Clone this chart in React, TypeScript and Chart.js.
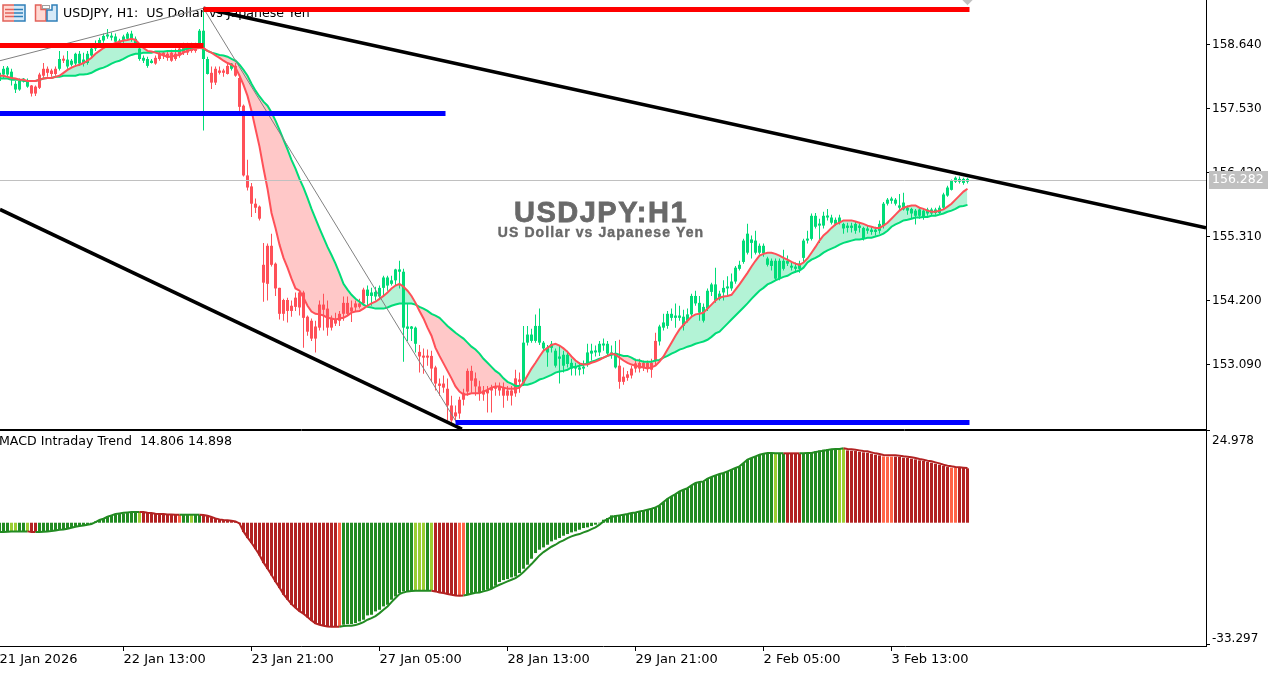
import React, { useEffect, useRef } from "react";
import { Chart, registerables } from "chart.js";

Chart.register(...registerables);

const timeTickIndexes = [0, 31, 63, 95, 127, 159, 191, 223];
const timeTickLabels = ["21 Jan 2026", "22 Jan 13:00", "23 Jan 21:00", "27 Jan 05:00", "28 Jan 13:00", "29 Jan 21:00", "2 Feb 05:00", "3 Feb 13:00"];
const priceTicks = [158.64, 157.53, 156.42, 155.31, 154.2, 153.09];
const macdTicks = [24.978, -33.297];
const lastPrice = 156.282;

const opens = [
158.01,158.12,158.12,158.05,157.86,157.86,158.01,157.91,157.93,157.91,
158.12,158.22,158.22,158.19,158.22,158.22,158.39,158.26,158.29,158.31,
158.31,158.31,158.32,158.45,158.57,158.65,158.71,158.78,158.76,158.69,
158.67,158.71,158.74,158.72,158.64,158.39,158.36,158.27,158.32,158.41,
158.48,158.50,158.48,158.50,158.48,158.57,158.62,158.58,158.62,158.62,
158.65,158.39,158.13,158.15,158.22,158.19,158.19,158.27,158.22,158.27,
158.06,157.58,156.37,156.18,155.88,155.83,154.82,155.15,155.15,154.84,
154.42,154.21,154.21,154.11,154.25,154.34,154.34,153.92,153.85,153.75,
154.13,154.13,154.06,153.89,153.87,153.97,154.16,154.16,154.08,154.15,
154.15,154.39,154.28,154.28,154.27,154.27,154.42,154.46,154.49,154.55,
154.70,153.73,153.71,153.71,153.45,153.31,153.24,153.24,153.24,153.04,
152.76,152.76,152.67,152.38,152.26,152.48,152.60,152.98,152.98,152.85,
152.71,152.64,152.65,152.69,152.71,152.72,152.69,152.64,152.64,152.85,
152.83,152.76,153.47,153.50,153.50,153.47,153.37,153.30,153.38,153.07,
153.19,153.07,153.10,153.02,153.02,153.00,153.02,153.10,153.28,153.30,
153.30,153.42,153.28,153.26,153.04,153.07,152.88,152.92,153.02,153.11,
153.12,153.12,153.12,153.12,153.50,153.49,153.73,153.76,153.90,153.90,
153.90,153.76,153.85,153.96,154.15,153.99,153.85,154.06,154.35,154.20,
154.23,154.34,154.41,154.41,154.53,154.75,154.87,155.03,155.20,155.03,
155.03,155.02,154.82,154.80,154.58,154.58,154.75,154.84,154.77,154.75,
154.75,154.94,155.24,155.27,155.48,155.50,155.50,155.64,155.55,155.53,
155.55,155.45,155.46,155.46,155.41,155.46,155.27,155.41,155.39,155.39,
155.41,155.50,155.88,155.93,155.88,155.81,155.78,155.76,155.71,155.67,
155.67,155.64,155.71,155.71,155.72,155.72,155.81,156.02,156.12,156.26,
156.26,156.24,156.26];

const closes = [
158.15,158.22,158.24,158.17,157.96,158.01,158.05,158.01,157.79,157.79,
157.89,158.10,158.15,158.13,158.13,158.39,158.36,158.38,158.36,158.48,
158.48,158.38,158.48,158.57,158.65,158.72,158.79,158.81,158.79,158.78,
158.71,158.78,158.83,158.83,158.74,158.57,158.41,158.39,158.36,158.31,
158.39,158.45,158.41,158.36,158.39,158.45,158.50,158.50,158.53,158.53,
158.88,158.88,158.39,157.98,157.98,158.15,158.15,158.13,158.31,158.10,
157.56,156.37,156.16,155.88,155.81,155.62,154.51,154.49,154.82,154.41,
153.97,153.97,154.02,154.02,154.09,154.08,153.90,153.66,153.54,153.54,
153.73,154.04,153.73,153.73,153.80,153.85,153.97,153.97,154.01,154.08,
154.09,154.15,154.39,154.34,154.35,154.42,154.60,154.60,154.55,154.74,
154.74,154.70,153.75,153.75,153.73,153.23,153.21,153.21,153.02,152.76,
152.72,152.69,152.38,152.12,152.19,152.24,152.48,152.62,152.81,152.71,
152.60,152.57,152.59,152.64,152.67,152.64,152.55,152.55,152.55,152.59,
152.79,153.47,153.61,153.61,153.76,153.76,153.47,153.38,153.45,153.33,
153.23,153.26,153.26,153.12,153.05,153.04,153.05,153.30,153.33,153.33,
153.45,153.45,153.45,153.30,153.28,152.79,152.79,152.86,152.90,153.02,
153.02,153.04,153.02,153.00,153.16,153.75,153.82,153.97,153.97,153.94,
153.94,153.92,153.96,154.28,154.28,154.16,154.09,154.37,154.48,154.48,
154.32,154.42,154.44,154.53,154.77,154.82,155.24,155.36,155.26,155.24,
155.15,155.15,154.93,154.89,154.89,154.89,154.89,154.89,154.79,154.79,
154.84,155.24,155.27,155.67,155.67,155.53,155.67,155.67,155.64,155.60,
155.64,155.53,155.50,155.50,155.53,155.50,155.46,155.45,155.43,155.43,
155.53,155.88,155.95,155.97,155.95,155.85,155.90,155.81,155.79,155.76,
155.78,155.76,155.78,155.78,155.78,155.81,156.04,156.16,156.28,156.33,
156.31,156.31,156.31];

const highs = [
158.19,158.27,158.27,158.22,158.01,158.05,158.06,158.05,157.94,157.93,
158.15,158.32,158.26,158.22,158.26,158.53,158.45,158.53,158.39,158.50,
158.53,158.50,158.53,158.62,158.71,158.76,158.83,158.91,158.85,158.83,
158.74,158.81,158.86,158.88,158.78,158.64,158.45,158.43,158.39,158.45,
158.53,158.53,158.53,158.55,158.57,158.62,158.67,158.67,158.67,158.67,
158.91,159.26,158.43,158.26,158.26,158.26,158.22,158.32,158.32,158.32,
158.12,157.60,156.64,156.24,155.97,155.85,155.20,155.19,155.36,154.86,
154.42,154.23,154.25,154.20,154.34,154.37,154.37,153.94,153.89,153.85,
154.20,154.32,154.20,153.94,153.99,154.02,154.27,154.27,154.20,154.20,
154.23,154.42,154.46,154.42,154.44,154.46,154.63,154.63,154.63,154.75,
154.89,154.75,154.15,153.76,153.75,153.43,153.37,153.35,153.33,153.07,
152.85,152.90,152.85,152.55,152.38,152.53,152.67,153.02,153.07,152.95,
152.81,152.72,152.72,152.74,152.78,152.78,152.78,152.72,152.72,153.00,
152.95,153.76,153.76,153.71,153.96,154.06,153.50,153.43,153.50,153.37,
153.42,153.33,153.33,153.19,153.12,153.12,153.16,153.45,153.45,153.42,
153.50,153.54,153.50,153.42,153.50,153.52,153.04,152.98,153.07,153.19,
153.19,153.16,153.16,153.19,153.64,153.78,153.97,154.02,154.06,154.15,
154.11,154.04,154.06,154.32,154.37,154.28,154.15,154.41,154.51,154.77,
154.37,154.55,154.62,154.67,154.80,154.89,155.27,155.53,155.33,155.41,
155.19,155.19,154.96,154.93,154.93,154.93,155.08,154.98,154.86,154.86,
154.89,155.27,155.41,155.71,155.72,155.62,155.74,155.79,155.69,155.64,
155.69,155.55,155.55,155.55,155.57,155.55,155.48,155.50,155.48,155.48,
155.59,155.91,155.98,156.00,155.98,156.05,156.07,155.85,155.81,155.79,
155.81,155.79,155.81,155.81,155.81,155.85,156.07,156.19,156.30,156.35,
156.35,156.33,156.33];

const lows = [
157.98,158.05,158.08,157.93,157.80,157.84,157.98,157.89,157.74,157.75,
157.87,158.05,158.08,158.08,158.10,158.19,158.32,158.22,158.26,158.26,
158.27,158.26,158.29,158.41,158.53,158.60,158.67,158.74,158.71,158.65,
158.64,158.67,158.71,158.69,158.60,158.36,158.32,158.24,158.31,158.29,
158.36,158.39,158.36,158.34,158.36,158.41,158.46,158.46,158.50,158.50,
158.62,157.15,158.12,157.87,157.94,158.12,158.08,158.12,158.19,158.08,
157.41,156.35,156.11,155.65,155.72,155.59,154.18,154.20,154.79,154.28,
153.87,153.85,153.82,153.92,154.02,153.94,153.38,153.59,153.50,153.30,
153.68,153.68,153.59,153.68,153.76,153.76,153.85,153.94,153.83,154.02,
154.06,154.11,154.11,154.11,154.20,154.23,154.28,154.37,154.46,154.46,
154.41,153.14,153.50,153.50,153.30,152.95,152.93,153.07,152.79,152.64,
152.55,152.60,152.12,152.08,152.12,152.15,152.38,152.55,152.60,152.55,
152.46,152.46,152.26,152.26,152.55,152.55,152.34,152.46,152.38,152.53,
152.60,152.72,153.42,153.47,153.47,153.43,153.33,153.05,153.30,153.04,
152.76,152.95,153.04,152.90,152.90,152.90,152.92,153.05,153.16,153.23,
153.24,153.33,153.24,153.19,153.02,152.67,152.74,152.81,152.85,152.95,
152.95,152.98,152.95,152.86,153.07,153.42,153.68,153.71,153.85,153.73,
153.85,153.68,153.82,153.92,154.11,153.85,153.82,154.02,154.28,154.16,
154.20,154.20,154.28,154.37,154.49,154.72,154.84,155.00,154.93,155.00,
155.00,154.96,154.79,154.72,154.55,154.55,154.72,154.80,154.72,154.68,
154.68,154.86,155.19,155.24,155.45,155.20,155.45,155.59,155.52,155.50,
155.52,155.36,155.38,155.38,155.36,155.38,155.24,155.36,155.34,155.33,
155.36,155.45,155.85,155.88,155.85,155.76,155.76,155.69,155.62,155.52,
155.62,155.60,155.67,155.67,155.69,155.69,155.79,156.00,156.11,156.24,
156.23,156.21,156.23];

const fastMA = [
158.10,158.10,158.08,158.06,158.05,158.03,158.03,158.01,158.01,158.01,
158.03,158.05,158.06,158.06,158.08,158.10,158.15,158.20,158.24,158.27,
158.29,158.32,158.36,158.41,158.48,158.53,158.58,158.62,158.64,158.67,
158.69,158.71,158.72,158.74,158.72,158.65,158.58,158.53,158.52,158.50,
158.48,158.45,158.43,158.43,158.45,158.46,158.50,158.53,158.55,158.57,
158.58,158.58,158.53,158.50,158.45,158.41,158.36,158.32,158.29,158.24,
158.10,157.94,157.75,157.49,157.18,156.87,156.49,156.14,155.72,155.46,
155.17,154.94,154.77,154.58,154.41,154.37,154.25,154.11,154.01,153.97,
153.96,153.94,153.90,153.89,153.87,153.89,153.90,153.94,153.99,154.01,
154.02,154.06,154.11,154.15,154.18,154.23,154.28,154.34,154.41,154.46,
154.49,154.44,154.37,154.28,154.16,154.02,153.89,153.73,153.59,153.38,
153.24,153.11,152.98,152.85,152.71,152.62,152.57,152.57,152.59,152.59,
152.59,152.62,152.65,152.69,152.71,152.71,152.69,152.67,152.67,152.67,
152.69,152.78,152.90,153.02,153.12,153.23,153.33,153.38,153.43,153.45,
153.42,153.37,153.31,153.23,153.16,153.11,153.09,153.09,153.12,153.14,
153.17,153.21,153.24,153.28,153.26,153.21,153.16,153.12,153.09,153.07,
153.05,153.04,153.02,153.04,153.07,153.14,153.23,153.35,153.47,153.59,
153.70,153.78,153.85,153.92,153.96,153.97,153.99,154.06,154.13,154.20,
154.25,154.27,154.28,154.30,154.39,154.48,154.58,154.68,154.79,154.89,
154.98,155.01,155.03,155.03,155.01,154.98,154.94,154.91,154.87,154.84,
154.82,154.86,154.93,155.03,155.13,155.24,155.33,155.39,155.46,155.52,
155.55,155.59,155.59,155.59,155.57,155.55,155.53,155.50,155.48,155.46,
155.46,155.50,155.55,155.62,155.69,155.76,155.81,155.83,155.85,155.85,
155.81,155.79,155.76,155.74,155.74,155.76,155.78,155.83,155.88,155.95,
156.02,156.09,156.14];

const slowMA = [
158.05,158.05,158.05,158.03,158.03,158.03,158.01,158.01,158.01,158.01,
158.03,158.05,158.06,158.06,158.08,158.08,158.10,158.10,158.10,158.10,
158.12,158.12,158.13,158.15,158.19,158.22,158.24,158.27,158.31,158.34,
158.36,158.39,158.43,158.46,158.48,158.48,158.50,158.50,158.50,158.52,
158.52,158.52,158.53,158.53,158.53,158.53,158.55,158.57,158.58,158.58,
158.58,158.57,158.53,158.50,158.48,158.46,158.45,158.43,158.39,158.36,
158.29,158.20,158.10,157.96,157.84,157.74,157.65,157.58,157.46,157.32,
157.16,156.99,156.82,156.64,156.49,156.31,156.16,155.98,155.79,155.62,
155.45,155.29,155.13,154.99,154.84,154.67,154.49,154.39,154.30,154.23,
154.18,154.13,154.09,154.08,154.06,154.06,154.06,154.08,154.11,154.13,
154.15,154.15,154.15,154.15,154.13,154.09,154.06,154.02,153.97,153.94,
153.90,153.83,153.76,153.70,153.64,153.59,153.54,153.47,153.40,153.35,
153.28,153.19,153.12,153.05,152.98,152.93,152.85,152.79,152.76,152.72,
152.72,152.74,152.74,152.76,152.79,152.83,152.85,152.88,152.91,152.95,
152.97,152.98,153.00,153.04,153.05,153.07,153.09,153.11,153.14,153.16,
153.19,153.21,153.24,153.26,153.28,153.26,153.24,153.24,153.21,153.17,
153.16,153.14,153.14,153.14,153.16,153.17,153.21,153.24,153.28,153.31,
153.35,153.37,153.40,153.42,153.45,153.47,153.49,153.52,153.57,153.63,
153.66,153.73,153.80,153.87,153.94,154.01,154.08,154.15,154.23,154.30,
154.37,154.42,154.48,154.51,154.55,154.58,154.61,154.63,154.67,154.70,
154.72,154.77,154.86,154.91,154.94,154.98,155.03,155.07,155.10,155.13,
155.17,155.20,155.22,155.24,155.26,155.26,155.27,155.29,155.29,155.31,
155.33,155.36,155.41,155.48,155.52,155.55,155.59,155.60,155.62,155.64,
155.64,155.65,155.65,155.67,155.67,155.69,155.71,155.74,155.76,155.79,
155.83,155.84,155.86];

const macdHistogram = [
-2.54,-2.54,-2.54,-2.36,-2.36,-2.36,-2.36,-2.36,-2.54,-2.54,
-2.54,-2.36,-2.36,-2.18,-2.00,-1.91,-1.73,-1.54,-1.27,-1.09,
-0.91,-0.73,-0.54,-0.36,0.36,0.73,1.09,1.63,2.00,2.18,
2.36,2.54,2.63,2.81,2.91,2.91,2.91,2.72,2.54,2.45,
2.36,2.36,2.27,2.18,2.18,2.09,2.09,2.09,2.09,2.09,
2.09,2.00,1.82,1.45,1.09,0.91,0.73,0.64,0.54,0.36,
-0.36,-2.54,-4.18,-5.54,-7.17,-8.90,-10.99,-12.62,-14.35,-16.16,
-17.80,-19.61,-20.97,-22.34,-23.24,-24.15,-24.88,-25.79,-26.70,-27.60,
-27.78,-28.06,-28.24,-28.33,-28.33,-28.33,-27.78,-27.60,-27.60,-27.33,
-26.88,-26.42,-25.24,-25.06,-24.15,-23.70,-22.79,-22.34,-20.97,-20.07,
-19.16,-18.70,-18.70,-18.52,-18.43,-18.43,-18.43,-18.43,-18.43,-18.70,
-18.98,-19.16,-19.43,-19.61,-19.79,-19.79,-19.61,-19.43,-19.16,-18.98,
-18.89,-18.52,-18.25,-17.80,-17.16,-16.16,
-15.62,-15.35,-14.89,-14.62,-13.71,-12.53,-11.44,-9.81,-8.26,-7.35,
-6.72,-5.99,-5.08,-4.63,-4.18,-3.54,-3.09,-2.63,-2.36,-1.91,
-1.45,-1.27,-0.91,-0.54,-0.18,0.82,1.27,2.00,2.00,2.00,
2.18,2.36,2.63,2.81,3.09,3.27,3.54,3.81,4.18,4.72,
5.63,6.54,7.17,7.81,8.54,8.99,9.44,10.17,10.81,11.08,
11.26,11.99,12.44,12.89,13.26,13.53,13.98,14.44,14.89,15.35,
16.25,17.16,17.62,18.07,18.52,18.80,18.98,18.98,18.80,18.80,
18.80,18.80,18.80,18.80,18.80,18.80,18.98,19.25,19.43,19.70,
19.89,19.98,20.07,20.07,20.07,20.16,
19.70,19.61,19.52,19.34,19.16,19.07,18.80,18.52,18.34,18.07,
17.98,17.98,17.98,17.89,17.71,17.62,17.43,17.25,16.98,16.80,
16.53,16.34,16.07,15.80,15.44,15.16,14.98,14.98,14.98,14.98,14.81];

const macdSignal = [
-2.54,-2.54,-2.45,-2.36,-2.36,-2.36,-2.36,-2.36,-2.54,-2.54,
-2.54,-2.45,-2.36,-2.27,-2.09,-1.91,-1.82,-1.63,-1.36,-1.09,
-0.91,-0.73,-0.54,-0.36,0.18,0.73,1.09,1.63,2.00,2.36,
2.54,2.72,2.81,2.91,2.91,2.91,2.91,2.72,2.63,2.45,
2.36,2.36,2.27,2.27,2.18,2.18,2.18,2.18,2.18,2.18,
2.18,2.09,1.91,1.54,1.18,0.91,0.73,0.64,0.54,0.36,
-0.18,-2.36,-4.00,-5.45,-7.08,-8.81,-10.81,-12.44,-14.16,-15.98,
-17.62,-19.43,-20.79,-22.16,-23.15,-24.06,-24.79,-25.70,-26.60,-27.42,
-27.78,-28.06,-28.24,-28.33,-28.33,-28.33,-28.15,-28.06,-28.06,-27.88,
-27.51,-27.06,-26.42,-25.97,-25.42,-24.61,-23.70,-22.79,-21.61,-20.52,
-19.43,-18.98,-18.70,-18.61,-18.52,-18.52,-18.52,-18.52,-18.52,-18.70,
-18.98,-19.16,-19.43,-19.61,-19.79,-19.89,-19.79,-19.61,-19.34,-19.07,
-18.98,-18.70,-18.43,-17.98,-17.43,-16.89,
-16.43,-15.98,-15.53,-15.07,-14.35,-13.44,-12.35,-11.26,-10.08,-8.90,
-7.99,-7.26,-6.54,-5.99,-5.27,-4.81,-4.18,-3.72,-3.36,-3.09,
-2.63,-2.27,-1.73,-1.27,-0.54,0.36,1.00,1.54,1.82,2.00,
2.18,2.36,2.63,2.81,3.09,3.27,3.54,3.81,4.18,4.72,
5.63,6.54,7.17,7.81,8.54,8.99,9.44,10.17,10.81,11.08,
11.26,11.99,12.44,12.89,13.26,13.53,13.98,14.44,14.89,15.35,
16.25,17.16,17.62,18.07,18.52,18.80,18.98,18.98,18.89,18.89,
18.89,18.89,18.89,18.89,18.89,18.89,18.98,18.98,19.25,19.43,
19.61,19.79,19.98,20.07,20.07,20.25,
20.07,19.98,19.89,19.70,19.52,19.43,19.16,18.89,18.70,18.43,
18.34,18.34,18.34,18.25,18.07,17.98,17.80,17.62,17.34,17.16,
16.89,16.71,16.43,16.16,15.80,15.53,15.35,15.20,15.10,15.00,14.90];

const macdStateRuns: [string, number][] = [
  ["G",3],["L",2],["G",2],["L",1],["R",2],["G",25],["L",1],["R",9],["T",1],["G",2],["L",1],["G",2],
  ["R",34],["T",1],["G",18],["L",3],["G",1],["L",1],["R",6],["T",2],["G",77],["L",1],["G",2],
  ["R",4],["G",9],["L",2],["R",9],["T",3],["R",14],["T",2],["R",3],
];
const macdStates = macdStateRuns.flatMap(([s, n]) => Array(n).fill(s));

const upperTrend = [{ x: 51, y: 159.27 }, { x: 301.625, y: 155.46 }];
const lowerTrend = [{ x: 0.125, y: 155.78 }, { x: 115.6, y: 151.97 }];
const zigzag = [{ x: 0.125, y: 158.36 }, { x: 51, y: 159.27 }, { x: 114.5, y: 152.06 }];
const resistanceLeft = [{ x: 0.125, y: 158.624 }, { x: 51, y: 158.624 }];
const resistanceTop = [{ x: 51, y: 159.248 }, { x: 242.5, y: 159.248 }];
const supportLeft = [{ x: 0.125, y: 157.444 }, { x: 111.5, y: 157.444 }];
const supportBottom = [{ x: 114, y: 152.085 }, { x: 242.5, y: 152.085 }];
const bidLine = [{ x: 0.125, y: lastPrice }, { x: 301.625, y: lastPrice }];
const arrowMark = [{ x: 242, y: 159.47 }];

const UP = "#00dc78";
const DOWN = "#ff5058";
const macdColors: Record<string, string> = { G: "#228B22", L: "#9ACD32", R: "#B22222", T: "#FF6347" };

const xy = (arr: number[]) => arr.map((y, x) => ({ x, y }));

function drawIcons(ctx: CanvasRenderingContext2D) {
  const RED = "#e2625a";
  const BLUE = "#2f7fb8";
  ctx.save();
  ctx.lineWidth = 1.5;
  ctx.fillStyle = "#ffd9d3"; ctx.fillRect(3, 5, 11, 16);
  ctx.fillStyle = "#d6eaf8"; ctx.fillRect(14, 5, 11, 16);
  ctx.strokeStyle = RED;
  ctx.beginPath(); ctx.moveTo(14, 5); ctx.lineTo(3, 5); ctx.lineTo(3, 21); ctx.lineTo(14, 21); ctx.stroke();
  [9.5, 13, 16.5].forEach((y) => { ctx.beginPath(); ctx.moveTo(5, y); ctx.lineTo(14, y); ctx.stroke(); });
  ctx.strokeStyle = BLUE;
  ctx.beginPath(); ctx.moveTo(14, 5); ctx.lineTo(25, 5); ctx.lineTo(25, 21); ctx.lineTo(14, 21); ctx.stroke();
  [9.5, 13, 16.5].forEach((y) => { ctx.beginPath(); ctx.moveTo(14, y); ctx.lineTo(23, y); ctx.stroke(); });
  ctx.fillStyle = "#ffd9d3"; ctx.strokeStyle = RED;
  ctx.beginPath(); ctx.moveTo(35.5, 5); ctx.lineTo(41, 5); ctx.lineTo(41, 9.5); ctx.lineTo(46, 9.5); ctx.lineTo(46, 21); ctx.lineTo(35.5, 21); ctx.closePath(); ctx.fill(); ctx.stroke();
  ctx.fillStyle = "#d6eaf8"; ctx.strokeStyle = BLUE;
  ctx.beginPath(); ctx.moveTo(52, 5); ctx.lineTo(57, 5); ctx.lineTo(57, 21); ctx.lineTo(47, 21); ctx.lineTo(47, 10); ctx.lineTo(52, 10); ctx.closePath(); ctx.fill(); ctx.stroke();
  ctx.lineWidth = 1; ctx.strokeStyle = "#a0a0a0"; ctx.fillStyle = "#ffffff";
  ctx.fillRect(42.5, 5.5, 7, 3); ctx.strokeRect(42.5, 5.5, 7, 3);
  ctx.restore();
}

const headerPlugin = {
  id: "headerText",
  beforeDatasetsDraw(chart: any) {
    const ctx = chart.ctx as CanvasRenderingContext2D;
    drawIcons(ctx);
    ctx.save();
    ctx.fillStyle = "#000";
    ctx.textBaseline = "middle";
    ctx.textAlign = "left";
    ctx.font = "12.6px 'DejaVu Sans'";
    ctx.fillText("USDJPY, H1:  US Dollar vs Japanese Yen", 63, 14);
    ctx.fillText("MACD Intraday Trend  14.806 14.898", -1, 442);
    ctx.restore();
  },
  afterDatasetsDraw(chart: any) {
    const ctx = chart.ctx as CanvasRenderingContext2D;
    ctx.save();
    ctx.textAlign = "center";
    ctx.textBaseline = "middle";
    ctx.fillStyle = "#696969";
    ctx.strokeStyle = "#696969";
    ctx.lineWidth = 0.8;
    ctx.font = "bold 29px 'Liberation Sans'";
    (ctx as any).letterSpacing = "1.5px";
    ctx.fillText("USDJPY:H1", 601, 214);
    ctx.strokeText("USDJPY:H1", 601, 214);
    ctx.lineWidth = 0.4;
    ctx.font = "bold 14px 'Liberation Sans'";
    (ctx as any).letterSpacing = "1.1px";
    ctx.fillText("US Dollar vs Japanese Yen", 601, 233);
    ctx.strokeText("US Dollar vs Japanese Yen", 601, 233);
    (ctx as any).letterSpacing = "0px";
    ctx.fillStyle = "#c0c0c0";
    ctx.fillRect(1209, 171, 59, 18);
    ctx.fillStyle = "#ffffff";
    ctx.textAlign = "left";
    ctx.font = "12.5px 'DejaVu Sans'";
    ctx.fillText(lastPrice.toFixed(3), 1212, 180);
    ctx.restore();
  },
};

export default function App() {
  const ref = useRef<HTMLCanvasElement | null>(null);

  useEffect(() => {
    document.body.style.margin = "0";
    const main = (extra: any) => ({ type: "line", yAxisID: "y", pointRadius: 0, borderCapStyle: "butt", tension: 0, fill: false, ...extra });
    const chart = new Chart(ref.current as HTMLCanvasElement, {
      type: "bar",
      plugins: [headerPlugin],
      data: {
        datasets: [
          main({ label: "fill fast", data: xy(fastMA), borderWidth: 0, borderColor: "transparent", order: 101,
            fill: { target: 1, above: "#b3f3d6", below: "#ffc8c8" } }),
          main({ label: "fill slow", data: xy(slowMA), borderWidth: 0, borderColor: "transparent", order: 102 }),
          { type: "bar", label: "wicks", yAxisID: "y", order: 60, grouped: false, barThickness: 1, inflateAmount: 0,
            data: highs.map((h, x) => ({ x, y: [lows[x], h] })),
            backgroundColor: closes.map((c, i) => (c >= opens[i] ? UP : DOWN)) },
          { type: "bar", label: "bodies", yAxisID: "y", order: 59, grouped: false, barThickness: 3, minBarLength: 2, inflateAmount: 0,
            data: opens.map((o, x) => ({ x, y: [o, closes[x]] })),
            backgroundColor: closes.map((c, i) => (c >= opens[i] ? UP : DOWN)) },
          main({ label: "slow MA", data: xy(slowMA), borderColor: UP, borderWidth: 2, order: 50 }),
          main({ label: "fast MA", data: xy(fastMA), borderColor: DOWN, borderWidth: 2, order: 49 }),
          main({ label: "bid", data: bidLine, borderColor: "#c0c0c0", borderWidth: 1, order: 48 }),
          main({ label: "zigzag", data: zigzag, borderColor: "#808080", borderWidth: 1, order: 30 }),
          main({ label: "upper trend", data: upperTrend, borderColor: "#000", borderWidth: 3.5, order: 20 }),
          main({ label: "lower trend", data: lowerTrend, borderColor: "#000", borderWidth: 3.5, order: 20 }),
          main({ label: "resistance left", data: resistanceLeft, borderColor: "#ff0000", borderWidth: 5, order: 10 }),
          main({ label: "resistance top", data: resistanceTop, borderColor: "#ff0000", borderWidth: 5, order: 10 }),
          main({ label: "support left", data: supportLeft, borderColor: "#0000ff", borderWidth: 5, order: 10 }),
          main({ label: "support bottom", data: supportBottom, borderColor: "#0000ff", borderWidth: 5, order: 10 }),
          main({ label: "arrow", data: arrowMark, showLine: false, pointRadius: 8, pointStyle: "rectRot",
            pointBackgroundColor: "#c0c0c0", pointBorderColor: "#c0c0c0", clip: false, order: 9 }),
          { type: "bar", label: "MACD", yAxisID: "y2", order: 40, grouped: false, barThickness: 3, inflateAmount: 0,
            data: xy(macdHistogram),
            backgroundColor: macdStates.map((s) => macdColors[s]) },
          { type: "line", label: "Signal", yAxisID: "y2", order: 39, data: xy(macdSignal), pointRadius: 0, borderWidth: 2, tension: 0, fill: false,
            borderColor: macdColors.G,
            segment: { borderColor: (c: any) => (/[RT]/.test(macdStates[c.p1DataIndex]) ? macdColors.R : macdColors.G) } },
        ] as any,
      },
      options: {
        animation: false,
        responsive: false,
        events: [],
        layout: { padding: 0, autoPadding: false },
        plugins: { legend: { display: false }, tooltip: { enabled: false } },
        scales: {
          x: {
            type: "linear", min: 0.125, max: 301.625, position: "bottom", offset: false,
            border: { color: "#000", width: 1 },
            grid: { offset: false, drawOnChartArea: false, tickColor: "#000", tickLength: 5, tickWidth: 1 },
            afterBuildTicks: (s: any) => { s.ticks = timeTickIndexes.map((value) => ({ value })); },
            afterFit: (s: any) => { s.height = 27; s.paddingLeft = 0; s.paddingRight = 0; },
            ticks: {
              autoSkip: false, maxRotation: 0, minRotation: 0, align: "start", padding: 1,
              color: "#000", font: { family: "'DejaVu Sans'", size: 13 },
              callback: (v: number) => timeTickLabels[timeTickIndexes.indexOf(v)] ?? "",
            },
          },
          y: {
            type: "linear", position: "right", stack: "panes", stackWeight: 429, weight: 0,
            min: 151.972, max: 159.413,
            border: { color: "#000", width: 1 },
            grid: {
              color: (c: any) => (c.index === priceTicks.length ? "#000" : "transparent"),
              tickColor: (c: any) => (c.index === priceTicks.length ? "transparent" : "#000"),
              tickLength: 4,
            },
            afterBuildTicks: (s: any) => { s.ticks = [...priceTicks, 151.972].map((value) => ({ value })); },
            afterFit: (s: any) => { s.width = 76; s.paddingTop = 0; s.paddingBottom = 0; },
            ticks: {
              autoSkip: false, padding: 2, color: "#000", font: { family: "'DejaVu Sans'", size: 12 },
              callback: (v: number) => (priceTicks.includes(v) ? v.toFixed(3) : ""),
            },
          },
          y2: {
            type: "linear", position: "right", stack: "panes", stackWeight: 217, weight: 1,
            min: -33.57, max: 25.52,
            border: { color: "#000", width: 1 },
            grid: {
              color: (c: any) => (c.tick.value === macdTicks[0] ? "#000" : "transparent"),
              tickColor: "#000",
              tickLength: 4,
            },
            afterBuildTicks: (s: any) => { s.ticks = macdTicks.map((value) => ({ value })); },
            afterFit: (s: any) => { s.width = 76; s.paddingTop = 0; s.paddingBottom = 0; },
            ticks: {
              autoSkip: false, padding: 2, labelOffset: 2, color: "#000",
              font: { family: "'DejaVu Sans'", size: 12, lineHeight: "16px" },
              callback: (v: number) => (v > 0 ? ["", v.toFixed(3)] : [v.toFixed(3), ""]),
            },
          },
        },
      } as any,
    });
    return () => chart.destroy();
  }, []);

  return <canvas ref={ref} width={1282} height={673} style={{ display: "block" }} />;
}
